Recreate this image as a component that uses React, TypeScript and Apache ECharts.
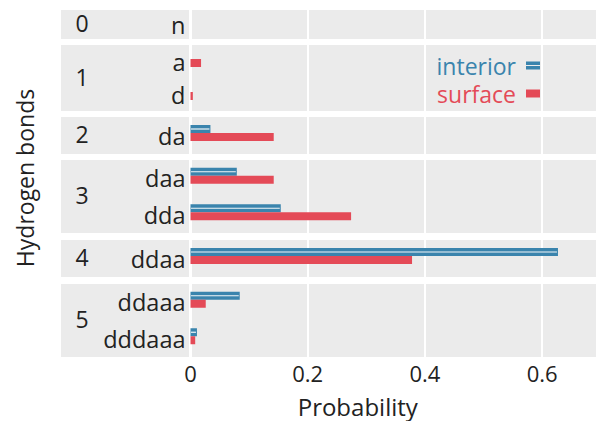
import React, { useEffect, useRef } from "react";
import * as echarts from "echarts";

// ---- data ----
const groups = ["0", "1", "2", "3", "4", "5"];
const categories = ["n", "a", "d", "da", "daa", "dda", "ddaa", "ddaaa", "dddaaa"];
const groupOf = [0, 1, 1, 2, 3, 3, 4, 5, 5];
const interior = [0, 0, 0, 0.034, 0.079, 0.154, 0.627, 0.084, 0.011];
const surface = [0, 0.018, 0.004, 0.142, 0.142, 0.274, 0.378, 0.026, 0.008];
const xTicks = [0, 0.2, 0.4, 0.6];

// ---- layout / style ----
const W = 596;
const H = 421;
const PANEL_TOP = [10, 45, 117, 160, 240, 284];
const PANEL_H = [29, 66, 37, 73, 37, 73];
const PLOT_LEFT = 190.5;
const XMAX = 0.697;
const BLUE = "#3a84ad";
const RED = "#e44a57";
const PANEL_BG = "#ebebeb";
const TEXT = "#222222";
const FONT = "Open Sans";
const INTERIOR_ICON = "path://M0 0H14V3.4H0ZM0 4.6H14V8H0Z";

function buildOption() {
  const last = groups.length - 1;
  const grids = groups.map((_, i) => ({
    left: PLOT_LEFT,
    right: -3,
    top: PANEL_TOP[i],
    height: PANEL_H[i],
    show: true,
    backgroundColor: PANEL_BG,
    borderWidth: 0,
    containLabel: false,
    outerBoundsMode: "none",
  }));

  const xAxes = groups.map((_, i) => ({
    type: "value",
    gridIndex: i,
    min: 0,
    max: XMAX,
    interval: 0.2,
    axisLine: { show: false },
    axisTick: { show: false },
    splitLine: { show: true, lineStyle: { color: "#ffffff", width: 2 } },
    axisLabel: {
      show: i === last,
      fontSize: 22,
      color: TEXT,
      fontFamily: FONT,
      margin: 5,
      showMaxLabel: false,
      formatter: (v: number) =>
        xTicks.some((t) => Math.abs(t - v) < 1e-9) ? String(Math.round(v * 10) / 10) : "",
    },
    name: i === last ? "Probability" : "",
    nameLocation: "middle",
    nameGap: 36,
    nameTextStyle: {
      fontSize: 24,
      color: TEXT,
      fontFamily: FONT,
      lineHeight: 26,
      padding: [0, 74, 0, 0],
    },
  }));

  const yAxes = groups.map((_, i) => ({
    type: "category",
    gridIndex: i,
    inverse: true,
    data: categories.filter((_, k) => groupOf[k] === i),
    axisLine: { show: false },
    axisTick: { show: false },
    splitLine: { show: false },
    axisLabel: { fontSize: 23.5, color: TEXT, fontFamily: FONT, margin: 5 },
  }));

  const series: any[] = [];
  groups.forEach((_, i) => {
    const idx = categories.map((_, k) => k).filter((k) => groupOf[k] === i);
    series.push({
      type: "custom",
      name: "interior",
      xAxisIndex: i,
      yAxisIndex: i,
      itemStyle: { color: BLUE },
      encode: { x: 0, y: 1 },
      data: idx.map((k, j) => [interior[k], j]),
      renderItem: (params: any, api: any) => {
        const v = api.value(0);
        const c = api.value(1);
        if (!(v > 0)) return { type: "group", children: [] };
        const s = api.coord([0, c]);
        const e = api.coord([v, c]);
        const yc = s[1] - 2.5;
        const w = e[0] - s[0];
        return {
          type: "group",
          children: [
            { type: "rect", shape: { x: s[0], y: yc - 8, width: w, height: 8 }, style: { fill: BLUE } },
            {
              type: "rect",
              shape: { x: s[0] + 0.5, y: yc - 4.6, width: Math.max(0, w - 1.5), height: 1.2 },
              style: { fill: "#f2f6f9" },
            },
          ],
        };
      },
    });
    series.push({
      type: "custom",
      name: "surface",
      xAxisIndex: i,
      yAxisIndex: i,
      itemStyle: { color: RED },
      encode: { x: 0, y: 1 },
      data: idx.map((k, j) => [surface[k], j]),
      renderItem: (params: any, api: any) => {
        const v = api.value(0);
        const c = api.value(1);
        if (!(v > 0)) return { type: "group", children: [] };
        const s = api.coord([0, c]);
        const e = api.coord([v, c]);
        const yc = s[1] - 2.5;
        return {
          type: "rect",
          shape: { x: s[0], y: yc, width: e[0] - s[0], height: 8 },
          style: { fill: RED },
        };
      },
    });
  });

  const graphics: any[] = [];
  groups.forEach((g, i) => {
    graphics.push({
      type: "rect",
      z: -10,
      shape: { x: 61, y: PANEL_TOP[i], width: 128, height: PANEL_H[i] },
      style: { fill: PANEL_BG },
      silent: true,
    });
    graphics.push({
      type: "text",
      z: 5,
      x: 82,
      y: PANEL_TOP[i] + PANEL_H[i] / 2 - 1.5,
      style: {
        text: g,
        fontSize: 23,
        fontFamily: FONT,
        fill: TEXT,
        align: "center",
        verticalAlign: "middle",
      },
      silent: true,
    });
  });
  graphics.push({
    type: "text",
    z: 5,
    x: 25,
    y: 178,
    rotation: Math.PI / 2,
    style: {
      text: "Hydrogen bonds",
      fontSize: 23,
      fontFamily: FONT,
      fill: TEXT,
      align: "center",
      verticalAlign: "middle",
    },
    silent: true,
  });

  return {
    animation: false,
    backgroundColor: "#ffffff",
    textStyle: { fontFamily: FONT },
    grid: grids,
    xAxis: xAxes,
    yAxis: yAxes,
    series,
    legend: {
      orient: "vertical",
      right: 56,
      top: 54,
      padding: 0,
      itemGap: 5,
      itemWidth: 14,
      itemHeight: 8,
      align: "right",
      selectedMode: false,
      textStyle: { fontSize: 23, lineHeight: 22, fontFamily: FONT, padding: [0, 5, 0, 0] },
      data: [
        { name: "interior", icon: INTERIOR_ICON, itemStyle: { color: BLUE }, textStyle: { color: BLUE } },
        { name: "surface", icon: "rect", itemStyle: { color: RED }, textStyle: { color: RED } },
      ],
    },
    graphic: { elements: graphics },
  };
}

export default function App() {
  const ref = useRef<HTMLDivElement>(null);
  useEffect(() => {
    if (!ref.current) return;
    const chart = echarts.init(ref.current, null, { renderer: "svg", width: W, height: H });
    chart.setOption(buildOption() as any);
    return () => chart.dispose();
  }, []);
  return (
    <div
      ref={ref}
      style={{ position: "absolute", left: 0, top: 0, width: W, height: H, background: "#ffffff" }}
    />
  );
}
